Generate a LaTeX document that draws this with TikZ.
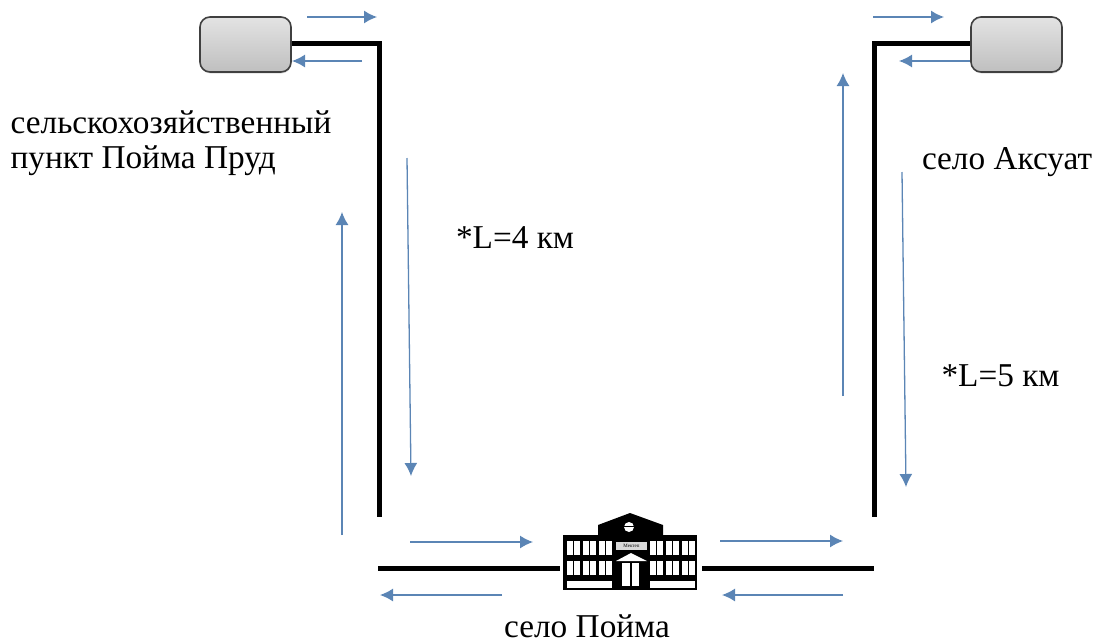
\documentclass[tikz,border=0pt]{standalone}
\usepackage{fontspec}
\setmainfont{Liberation Serif}
\usetikzlibrary{positioning,arrows.meta,shadows}
\definecolor{flowblue}{HTML}{5B85B5}
\tikzset{
  flow/.style={draw=flowblue,line width=1.3pt,-{Latex[length=13pt,width=13pt]}},
  wire/.style={draw=black,line width=5pt,line join=miter},
  station/.style={draw=black!75,line width=1.6pt,rounded corners=10pt,minimum width=91pt,minimum height=55pt,inner sep=0pt,
    top color=gray!22,bottom color=gray!50,drop shadow={shadow xshift=0.5pt,shadow yshift=-1.5pt,opacity=0.25}},
  caption/.style={font=\fontsize{33.3}{35}\selectfont,inner sep=0pt,text height=19pt,text depth=4pt}
}
\begin{document}
\begin{tikzpicture}[x=1pt,y=-1pt]
        \useasboundingbox (0,0) rectangle (1097,643);
        \node [station] (BoxL) at (245.5,44.5) {};
        \node [station] (BoxR) at (1016.5,44.5) {};
        \node [minimum width=142pt,minimum height=77pt,inner sep=0pt] (School) at (631,551.5) {};
        \node [on grid, below left=116.5pt and 74.5pt of BoxL, caption, align=left] (LabelL) {сельскохозяйственный\\пункт Пойма Пруд};
        \node [on grid, below right=117pt and -9.5pt of BoxR, caption] (LabelR) {село Аксуат};
        \node [on grid, below left=78pt and 44pt of School, caption] (LabelS) {село Пойма};
        \node [caption] (LenL) at (515,240.5) {*L=4 км};
        \node [caption] (LenR) at (1000.5,378.5) {*L=5 км};
        \coordinate (CornerL) at (379,43.5);
        \coordinate (CornerR) at (874,43.5);
        \coordinate (EndL) at (379,517);
        \coordinate (EndR) at (874,517);
        \coordinate (RoadL) at (378,568.5);
        \coordinate (RoadR) at (874,568.5);
        \draw [wire] (BoxL.east |- CornerL) -- (CornerL) -- (EndL);
        \draw [wire] (BoxR.west |- CornerR) -- (CornerR) -- (EndR);
        \draw [wire] (RoadL) -- (School.west |- RoadL);
        \draw [wire] (School.east |- RoadR) -- (RoadR);
        \foreach \name/\xa/\ya/\xb/\yb in {
          a/307/17/377/17, b/362/61/292/61, c/407/158/411/476, d/342/535/342/212,
          e/410/542/533/542, f/502/595/380/595, g/720/541/843/541, h/843/595/722/595,
          i/843/396/843/73, j/902/172/906/487, k/873/17/944/17, l/970/61/899/61} {
          \coordinate (\name from) at (\xa,\ya);
          \coordinate (\name to) at (\xb,\yb);
          \draw [flow] (\name from) -- (\name to);
        }
        \fill (563,535) rectangle (697,590);
        \fill (598,536) -- (598,525) -- (630,513) -- (663,525) -- (663,536) -- cycle;
        \fill [white] (629,527) circle (5pt);
        \draw [line width=1pt] (624,526) -- (634,526);
        \foreach \x in {567,583,599,650,666,682} {
          \foreach \y in {541,561} {
            \fill [white] (\x,\y) rectangle ++(12.5,14);
            \fill (\x+5.5,\y) rectangle ++(1.5,14);
          }
        }
        \fill [white] (567,581) rectangle (612,588);
        \fill [white] (650,581) rectangle (695,588);
        \node [fill=white!85!black,minimum width=31pt,minimum height=8pt,inner sep=0pt,font=\fontsize{5}{5}\selectfont] (Sign) at (631.5,546) {Мектеп};
        \fill [white] (616,561) -- (631,553) -- (647,561) -- cycle;
        \fill [white] (622,563) rectangle (639,586);
        \fill (629.5,563) rectangle (631.5,586);
      \end{tikzpicture}
\end{document}
